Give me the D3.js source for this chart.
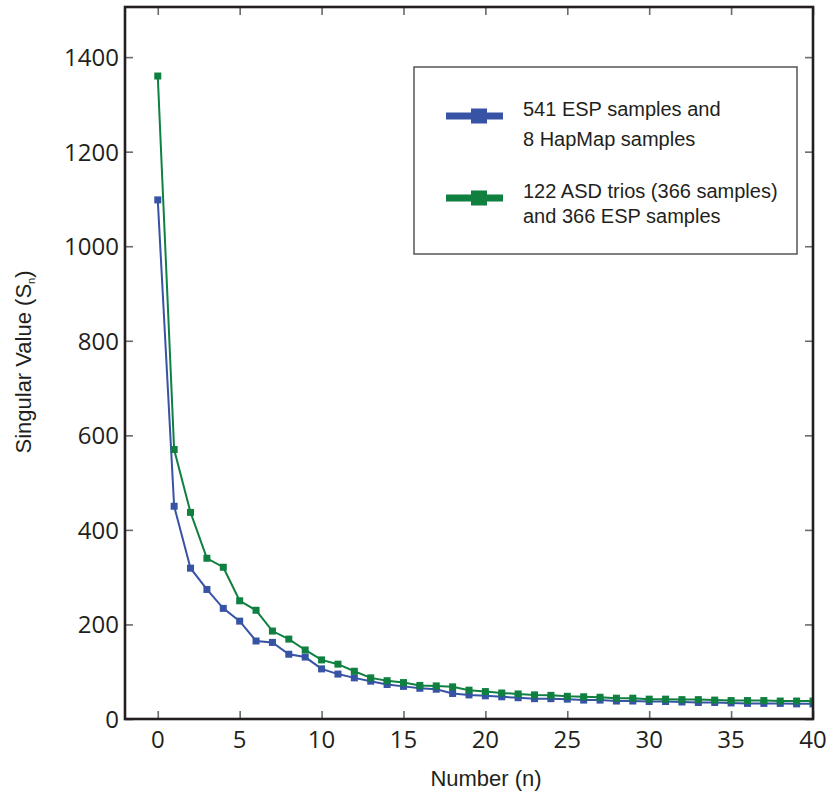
<!DOCTYPE html>
<html>
<head>
<meta charset="utf-8">
<script src="https://cdn.jsdelivr.net/npm/d3@7"></script>
<style>
  body { margin: 0; background: #fff; }
  svg { display: block; }
</style>
</head>
<body>
<svg id="chart" width="834" height="797"></svg>
<script>
// values, n = 0..40
var xTicks = [0, 5, 10, 15, 20, 25, 30, 35, 40];
var yTicks = [0, 200, 400, 600, 800, 1000, 1200, 1400];

var espHapmap = [1098, 450, 319, 274, 234, 207, 165, 162, 137, 131, 106, 95, 87, 80, 73, 69, 65, 63, 54, 51,
  49, 47, 45, 43, 43, 42, 40, 40, 38, 38, 37, 37, 36, 35, 35, 34, 33, 33, 33, 32, 32];
var asdEsp = [1360, 570, 437, 340, 321, 250, 230, 186, 169, 146, 125, 116, 101, 87, 81, 77, 71, 70, 68, 61,
  58, 55, 53, 51, 50, 48, 47, 46, 44, 44, 42, 42, 41, 41, 40, 39, 39, 39, 38, 38, 38];

var seriesNames = [
  ["541 ESP samples and", "8 HapMap samples"],
  ["122 ASD trios (366 samples)", "and 366 ESP samples"]
];
var colors = ["#3753a5", "#0f8040"];

var svg = d3.select("#chart");

// plot frame (note: "top" is taken by window.top)
var frameL = 125, frameR = 813, frameT = 7, frameB = 719;

var x = d3.scaleLinear().domain([-2, 40]).range([frameL, frameR]);
var y = d3.scaleLinear().domain([0, 1506]).range([frameB, frameT]);

svg.append("defs").append("clipPath").attr("id", "plotclip")
  .append("rect")
  .attr("x", frameL).attr("y", frameT)
  .attr("width", frameR - frameL).attr("height", frameB - frameT);

// inward ticks on all four sides
var tickColor = "#6b6b6b";
var axes = svg.append("g");
axes.append("g").attr("transform", "translate(0," + frameB + ")")
  .call(d3.axisTop(x).tickValues(xTicks).tickSize(8).tickFormat(""));
axes.append("g").attr("transform", "translate(0," + frameT + ")")
  .call(d3.axisBottom(x).tickValues(xTicks).tickSize(8).tickFormat(""));
axes.append("g").attr("transform", "translate(" + frameL + ",0)")
  .call(d3.axisRight(y).tickValues(yTicks).tickSize(8).tickFormat(""));
axes.append("g").attr("transform", "translate(" + frameR + ",0)")
  .call(d3.axisLeft(y).tickValues(yTicks).tickSize(8).tickFormat(""));
axes.selectAll(".domain").remove();
axes.selectAll(".tick line").attr("stroke", tickColor).attr("stroke-width", 1.6);

// tick labels
svg.append("g").selectAll("text")
  .data(xTicks)
  .enter()
  .append("text")
  .attr("x", function(d) { return x(d); })
  .attr("y", 748)
  .attr("text-anchor", "middle")
  .style("font-family", "'Open Sans', sans-serif")
  .style("font-size", "24px")
  .attr("fill", "#231f20")
  .text(function(d) { return d; });

svg.append("g").selectAll("text")
  .data(yTicks)
  .enter()
  .append("text")
  .attr("x", 119)
  .attr("y", function(d) { return y(d) + 9; })
  .attr("text-anchor", "end")
  .style("font-family", "'Open Sans', sans-serif")
  .style("font-size", "24px")
  .attr("fill", "#231f20")
  .text(function(d) { return d; });

// axis titles
svg.append("text")
  .attr("x", 486)
  .attr("y", 786)
  .attr("text-anchor", "middle")
  .style("font-family", "'Liberation Sans', Arial, sans-serif")
  .style("font-size", "22px")
  .attr("fill", "#231f20")
  .text("Number (n)");

var ylab = svg.append("text")
  .attr("transform", "translate(31,362) rotate(-90)")
  .attr("text-anchor", "middle")
  .style("font-family", "'Liberation Sans', Arial, sans-serif")
  .style("font-size", "22px")
  .attr("fill", "#231f20");
ylab.append("tspan").text("Singular Value (S");
ylab.append("tspan").attr("dy", 4).style("font-size", "11px").text("n");
ylab.append("tspan").attr("dy", -4).text(")");

// series
var plot = svg.append("g").attr("clip-path", "url(#plotclip)");
var line = d3.line()
  .x(function(d, i) { return x(i); })
  .y(function(d) { return y(d); });

[espHapmap, asdEsp].forEach(function(values, k) {
  var g = plot.append("g");
  g.append("path")
    .datum(values)
    .attr("d", line)
    .attr("fill", "none")
    .attr("stroke", colors[k])
    .attr("stroke-width", 2);
  g.selectAll("rect")
    .data(values)
    .enter()
    .append("rect")
    .attr("x", function(d, i) { return x(i) - 3.5; })
    .attr("y", function(d) { return y(d) - 3.5; })
    .attr("width", 7)
    .attr("height", 7)
    .attr("fill", colors[k]);
});

// frame
svg.append("rect")
  .attr("x", frameL).attr("y", frameT)
  .attr("width", frameR - frameL).attr("height", frameB - frameT)
  .attr("fill", "none")
  .attr("stroke", "#231f20")
  .attr("stroke-width", 2.6);

// legend
var legend = svg.append("g");
legend.append("rect")
  .attr("x", 414).attr("y", 67)
  .attr("width", 383).attr("height", 187)
  .attr("fill", "#fff")
  .attr("stroke", "#555")
  .attr("stroke-width", 1.5);

var legendY = [116, 198];
seriesNames.forEach(function(lines, k) {
  var ly = legendY[k];
  legend.append("line")
    .attr("x1", 446).attr("x2", 503)
    .attr("y1", ly).attr("y2", ly)
    .attr("stroke", colors[k])
    .attr("stroke-width", 7);
  legend.append("rect")
    .attr("x", 471).attr("y", ly - 7.5)
    .attr("width", 16).attr("height", 15)
    .attr("fill", colors[k]);
  legend.selectAll(null)
    .data(lines)
    .enter()
    .append("text")
    .attr("x", 523)
    .attr("y", function(d, i) { return k === 0 ? ly + i * 30 : ly + i * 24.5; })
    .style("font-family", "'Liberation Sans', Arial, sans-serif")
    .style("font-size", "20px")
    .attr("fill", "#231f20")
    .text(function(d) { return d; });
});
</script>
</body>
</html>
